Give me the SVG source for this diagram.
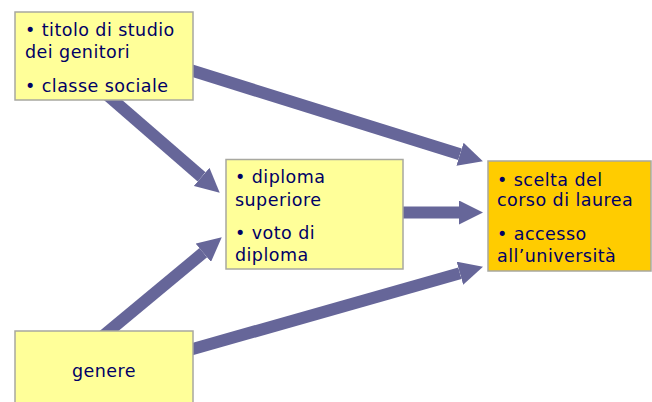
<svg xmlns="http://www.w3.org/2000/svg" width="652" height="402" viewBox="0 0 652 402">
<style>
.box{fill:#FFFF99;stroke:#A8A8A0;stroke-width:1.5}
.box.target{fill:#FFCC00}
.t{font-family:"DejaVu Sans",Verdana,sans-serif;font-size:17.5px;letter-spacing:0.45px;fill:#000066}
.c{stroke:#666699;stroke-width:12;fill:none;marker-end:url(#ah)}
</style>
<defs>
<marker id="ah" markerUnits="userSpaceOnUse" markerWidth="24" markerHeight="24" refX="0" refY="12" orient="auto" viewBox="0 0 24 24">
<path d="M0,0 L24,12 L0,24 z" fill="#666699"/>
</marker>
</defs>
<g id="connectors">
<line class="c" x1="180.6" y1="67.1" x2="460" y2="154.2"/>
<line class="c" x1="395" y1="212.5" x2="459" y2="212.5"/>
<line class="c" x1="180.5" y1="352.5" x2="459.9" y2="273.3"/>
<line class="c" x1="105.5" y1="93.5" x2="201.6" y2="176.9"/>
<line class="c" x1="101.3" y1="337.4" x2="203.3" y2="252.7"/>
</g>
<g id="n1">
<rect class="box" x="15" y="12" width="178" height="88"/>
<text class="t" x="25" y="36">• titolo di studio</text>
<text class="t" x="25" y="58">dei genitori</text>
<text class="t" x="25" y="92">• classe sociale</text>
</g>
<g id="n2">
<rect class="box" x="226" y="159.5" width="177" height="109.5"/>
<text class="t" x="235" y="183">• diploma</text>
<text class="t" x="235" y="205.5">superiore</text>
<text class="t" x="235" y="239">• voto di</text>
<text class="t" x="235" y="261">diploma</text>
</g>
<g id="n3">
<rect class="box target" x="488" y="161" width="163" height="110"/>
<text class="t" x="497" y="185.5">• scelta del</text>
<text class="t" x="497" y="206">corso di laurea</text>
<text class="t" x="497" y="240">• accesso</text>
<text class="t" x="497" y="261.5">all’università</text>
</g>
<g id="n4">
<rect class="box" x="15" y="331" width="178" height="80"/>
<text class="t" x="104" y="377" text-anchor="middle">genere</text>
</g>
</svg>
